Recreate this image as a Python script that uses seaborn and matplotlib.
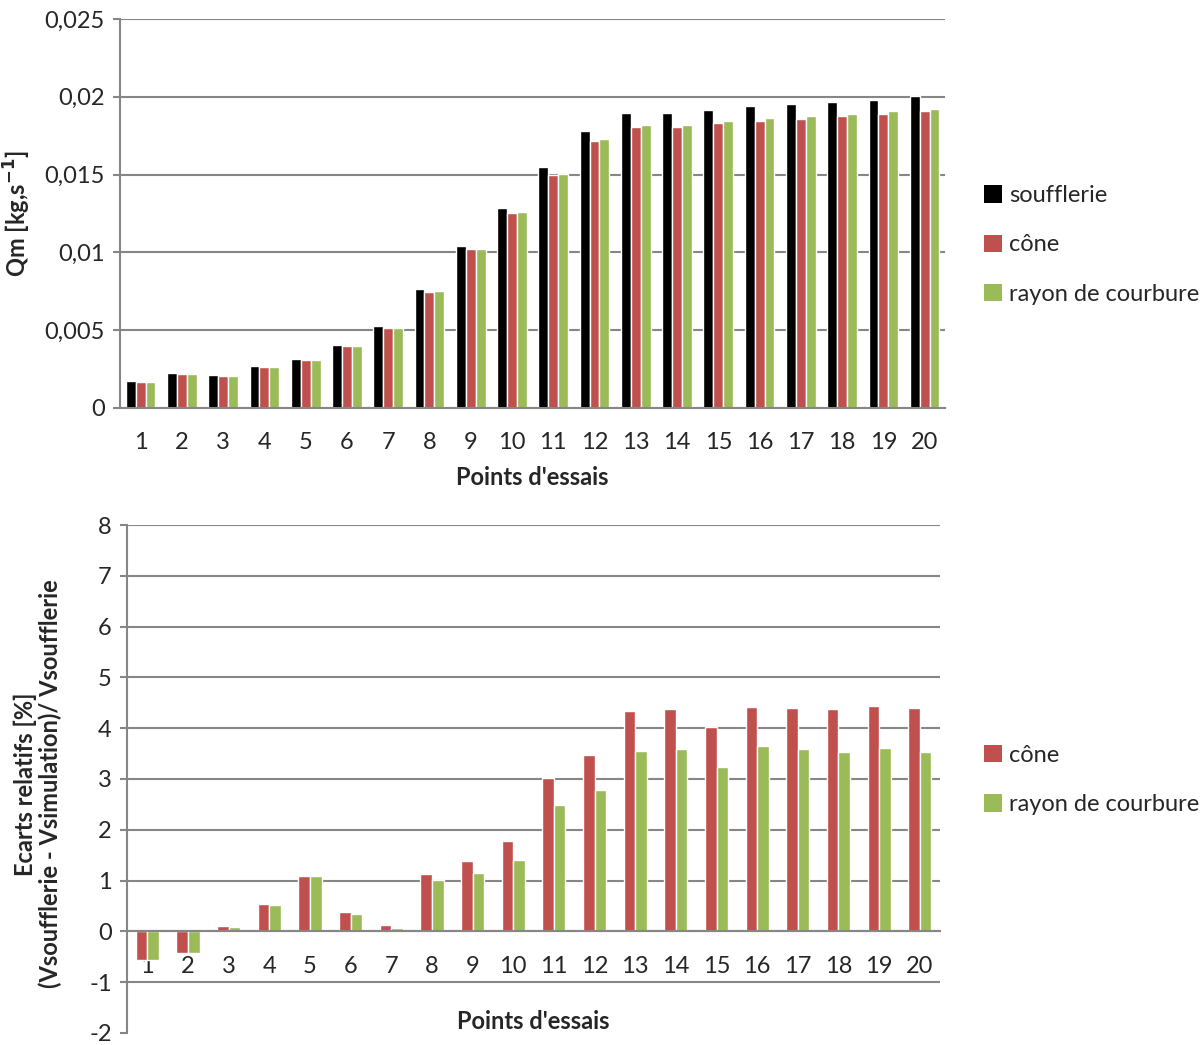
import numpy as np
import pandas as pd
import matplotlib
matplotlib.use("Agg")
import matplotlib.pyplot as plt
from matplotlib.ticker import FuncFormatter, FixedLocator
from matplotlib.patches import Patch
import seaborn as sns

# Data
points = [str(i) for i in range(1, 21)]
qm_soufflerie = [0.00176, 0.00223, 0.00214, 0.00268, 0.00317, 0.00405, 0.00525, 0.00762, 0.01041, 0.01283,
                 0.01550, 0.01782, 0.01895, 0.01895, 0.01912, 0.01940, 0.01951, 0.01966, 0.01981, 0.02002]
qm_cone = [0.00169, 0.00218, 0.00208, 0.00261, 0.00308, 0.00396, 0.00516, 0.00747, 0.01019, 0.01253,
           0.01499, 0.01713, 0.01807, 0.01807, 0.01829, 0.01846, 0.01859, 0.01874, 0.01889, 0.01906]
qm_rayon = [0.00169, 0.00218, 0.00208, 0.00261, 0.00310, 0.00396, 0.00516, 0.00750, 0.01024, 0.01257,
            0.01505, 0.01726, 0.01822, 0.01822, 0.01844, 0.01861, 0.01876, 0.01889, 0.01906, 0.01923]
ecart_cone = [-0.565, -0.43, 0.10, 0.545, 1.10, 0.38, 0.13, 1.135, 1.39, 1.78,
              3.02, 3.48, 4.33, 4.37, 4.02, 4.41, 4.40, 4.37, 4.43, 4.40]
ecart_rayon = [-0.57, -0.435, 0.09, 0.525, 1.085, 0.35, 0.065, 1.01, 1.15, 1.415,
               2.48, 2.79, 3.55, 3.60, 3.23, 3.64, 3.60, 3.53, 3.62, 3.53]

series_top = ["soufflerie", "cône", "rayon de courbure"]
series_bottom = ["cône", "rayon de courbure"]
colors = {"soufflerie": "#000000", "cône": "#C0504D", "rayon de courbure": "#9BBB59"}

df_top = pd.DataFrame({
    "point": points * 3,
    "serie": np.repeat(series_top, len(points)),
    "valeur": qm_soufflerie + qm_cone + qm_rayon,
})
df_bot = pd.DataFrame({
    "point": points * 2,
    "serie": np.repeat(series_bottom, len(points)),
    "valeur": ecart_cone + ecart_rayon,
})

sns.set_style("white")
plt.rcParams["font.family"] = ["Lato", "DejaVu Sans"]
plt.rcParams["axes.unicode_minus"] = False
grid_col = "#868686"
fs = 17

fig = plt.figure(figsize=(12.02, 10.45), dpi=100)
ax1 = fig.add_axes([0.0998, 0.6096, 0.6866, 0.3722])
ax2 = fig.add_axes([0.1057, 0.0115, 0.6764, 0.4861])


def style_axis(ax):
    ax.set_axisbelow(True)
    ax.yaxis.grid(True, color=grid_col, linewidth=1.5)
    ax.xaxis.grid(False)
    for s in ["top", "right"]:
        ax.spines[s].set_visible(False)
    for s in ["left", "bottom"]:
        ax.spines[s].set_color(grid_col)
        ax.spines[s].set_linewidth(1.5)
    ax.set_xlim(-0.5, len(points) - 0.5)
    ax.xaxis.set_minor_locator(FixedLocator(np.arange(-0.5, len(points), 1.0)))
    ax.tick_params(axis="x", which="major", length=0, pad=17.5, labelsize=fs)
    ax.tick_params(axis="x", which="minor", length=6, width=1.5, color=grid_col, direction="out")
    ax.tick_params(axis="y", which="major", length=5, width=1.5, color=grid_col, direction="out",
                   labelsize=fs, pad=6, left=True)


# top chart
sns.barplot(data=df_top, x="point", y="valeur", hue="serie", palette=colors,
            width=0.72, saturation=1, ax=ax1, legend=False)
style_axis(ax1)
ax1.set_ylim(0, 0.025)
ax1.set_yticks(np.arange(0, 0.0251, 0.005))
ax1.yaxis.set_major_formatter(FuncFormatter(lambda v, p: f"{v:.3f}".rstrip("0").rstrip(".").replace(".", ",") if v else "0"))
ax1.set_xlabel("Points d'essais", fontsize=fs, fontweight="bold", labelpad=9)
ax1.set_ylabel("Qm [kg,s$^{\\mathbf{-1}}$]", fontsize=fs, fontweight="bold", labelpad=8)

# bottom chart
sns.barplot(data=df_bot, x="point", y="valeur", hue="serie", palette=colors,
            width=0.57, saturation=1, ax=ax2, legend=False)
style_axis(ax2)
ax2.set_ylim(-2, 8)
ax2.set_yticks(np.arange(-2, 9, 1))
ax2.spines["bottom"].set_position(("data", 0))
ax2.get_ygridlines()[0].set_visible(False)
ax2.set_xlabel("Points d'essais", fontsize=fs, fontweight="bold")
ax2.xaxis.set_label_coords(0.5, 0.045)
ax2.set_ylabel("Ecarts relatifs [%]\n(Vsoufflerie - Vsimulation)/ Vsoufflerie",
               fontsize=fs, fontweight="bold", linespacing=1.1)
ax2.yaxis.set_label_coords(-0.08, 0.49)

# legends
h_top = [Patch(facecolor=colors[s], edgecolor="none") for s in series_top]
fig.legend(h_top, series_top, loc="center left", bbox_to_anchor=(0.801, 0.7656),
           frameon=False, fontsize=fs, handlelength=0.75, handleheight=0.75,
           handletextpad=0.3, labelspacing=1.2)
h_bot = [Patch(facecolor=colors[s], edgecolor="none") for s in series_bottom]
fig.legend(h_bot, series_bottom, loc="center left", bbox_to_anchor=(0.801, 0.2536),
           frameon=False, fontsize=fs, handlelength=0.75, handleheight=0.75,
           handletextpad=0.3, labelspacing=1.2)

fig.savefig("out.png", dpi=100)
